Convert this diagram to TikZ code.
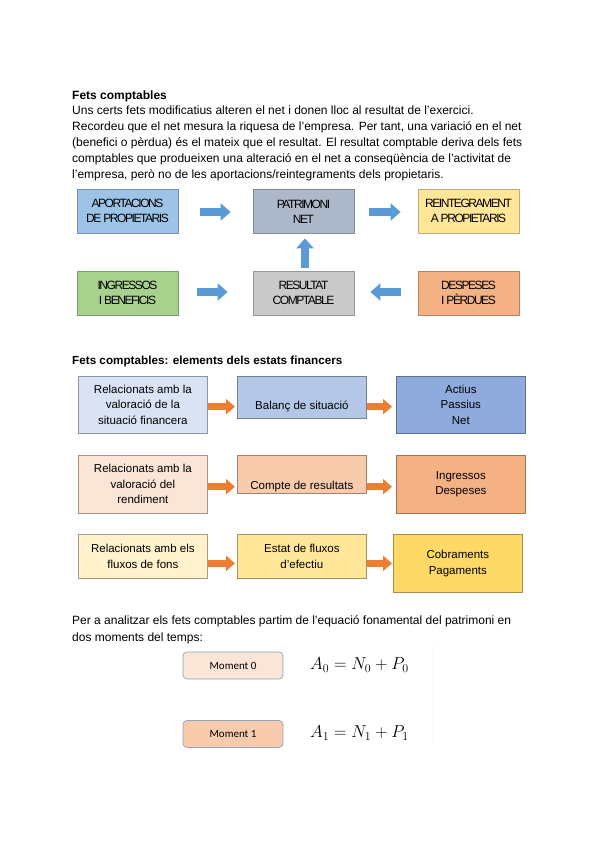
\documentclass[tikz,border=0pt]{standalone}
\usepackage{fontspec}
\setmainfont{Liberation Sans}
\newfontfamily\condfont[LetterSpace=-12]{Liberation Sans}
\newfontfamily\calfont{Carlito}
\usetikzlibrary{arrows.meta}
\definecolor{apbl}{HTML}{9DC3E6}
\definecolor{pngr}{HTML}{ADB9CA}
\definecolor{reyl}{HTML}{FFE699}
\definecolor{ingr}{HTML}{A9D18E}
\definecolor{resg}{HTML}{C9C9C9}
\definecolor{desor}{HTML}{F4B183}
\definecolor{arrbl}{HTML}{5B9BD5}
\definecolor{arror}{HTML}{ED7D31}
\definecolor{bla}{HTML}{DAE3F3}
\definecolor{blb}{HTML}{B4C7E7}
\definecolor{blc}{HTML}{8FAADC}
\definecolor{ora}{HTML}{FBE5D6}
\definecolor{orb}{HTML}{F8CBAD}
\definecolor{orc}{HTML}{F4B183}
\definecolor{yla}{HTML}{FFF2CC}
\definecolor{ylb}{HTML}{FFE699}
\definecolor{ylc}{HTML}{FFD966}
\definecolor{mbord}{HTML}{8FA3BF}
\tikzset{
  capbox/.style={draw=#1!75!black, line width=0.8pt, fill=#1, minimum width=101, minimum height=44, inner sep=0pt, align=center, font=\condfont\fontsize{12}{15}\selectfont},
  elbox/.style={draw=#1!65!black, line width=0.7pt, fill=#1, minimum width=129, inner sep=0pt, align=center, font=\fontsize{11.5}{15.5}\selectfont, anchor=north west},
  bluearrow/.style={draw=arrbl, line width=8pt, -{Triangle[length=10pt, width=17pt]}},
  orarrow/.style={draw=arror, line width=6.5pt, -{Triangle[length=9pt, width=15pt]}},
  momentbox/.style={draw=mbord, line width=0.7pt, fill=#1, rounded corners=4pt, minimum width=100, minimum height=27, inner sep=0pt, font=\calfont\fontsize{11}{13}\selectfont},
  eqn/.style={inner sep=0pt, anchor=west, font=\fontsize{16.5}{20}\selectfont}
}
\begin{document}
\begin{tikzpicture}[x=1pt, y=-1pt]
\useasboundingbox[fill=white] (0,0) rectangle (599,848);

% --- Section 1 text
\node[anchor=base west, inner sep=0pt, font=\bfseries\fontsize{12}{14}\selectfont] (t1) at (72,99.5) {Fets comptables};
\node[anchor=north west, inner sep=0pt, align=left, font=\fontsize{12}{16}\selectfont] (p1) at (72,105.7) {Uns certs fets modificatius alteren el net i donen lloc al resultat de l’exercici.\\
Recordeu que el net mesura la riquesa de l’empresa. Per tant, una variació en el net\\
(benefici o pèrdua) és el mateix que el resultat. El resultat comptable deriva dels fets\\
comptables que produeixen una alteració en el net a conseqüència de l’activitat de\\
l’empresa, però no de les aportacions/reintegraments dels propietaris.};

% --- Diagram 1
\node[capbox=apbl] (ap) at (127.5,211) {APORTACIONS\\DE PROPIETARIS};
\node[capbox=pngr] (pn) at (303.5,211.5) {PATRIMONI\\NET};
\node[capbox=reyl] (re) at (468.5,211) {REINTEGRAMENT\\A PROPIETARIS};
\node[capbox=ingr] (in) at (127.5,293) {INGRESSOS\\I BENEFICIS};
\node[capbox=resg] (rs) at (303.5,293) {RESULTAT\\COMPTABLE};
\node[capbox=desor] (de) at (468.5,293) {DESPESES\\I PÈRDUES};

\draw[bluearrow] ([xshift=22pt,yshift=-1pt]ap.east) -- ([xshift=-22pt,yshift=-0.5pt]pn.west);
\draw[bluearrow] ([xshift=15pt,yshift=-0.5pt]pn.east) -- ([xshift=-17pt,yshift=-1pt]re.west);
\draw[bluearrow] ([xshift=1.5pt,yshift=3pt]rs.north) -- ([xshift=1.5pt,yshift=-4.5pt]pn.south);
\draw[bluearrow] ([xshift=19pt,yshift=1pt]in.east) -- ([xshift=-25pt,yshift=1pt]rs.west);
\draw[bluearrow] ([xshift=-17pt,yshift=1pt]de.west) -- ([xshift=16pt,yshift=1pt]rs.east);

% --- Section 2
\node[anchor=base west, inner sep=0pt, font=\bfseries\fontsize{11.7}{14}\selectfont] (t2) at (72,364) {Fets comptables: elements dels estats financers};

\node[elbox=bla, minimum height=57] (a1) at (78,376) {Relacionats amb la\\valoració de la\\situació financera};
\node[elbox=blb, minimum height=42] (b1) at (237,376) {};
\node[anchor=base, inner sep=0pt, font=\fontsize{11.5}{14}\selectfont] (b1t) at ([yshift=9pt]b1.south) {Balanç de situació};
\node[elbox=blc, minimum height=57] (c1) at (396,376) {Actius\\Passius\\Net};

\node[elbox=ora, minimum height=58] (a2) at (78,455) {Relacionats amb la\\valoració del\\rendiment};
\node[elbox=orb, minimum height=38] (b2) at (237,455) {};
\node[anchor=base, inner sep=0pt, font=\fontsize{11.5}{14}\selectfont] (b2t) at ([yshift=4pt]b2.south) {Compte de resultats};
\node[elbox=orc, minimum height=58] (c2) at (396,455) {Ingressos\\Despeses};

\node[elbox=yla, minimum height=44] (a3) at (78,534) {Relacionats amb els\\fluxos de fons};
\node[elbox=ylb, minimum height=44] (b3) at (237,534) {Estat de fluxos\\d’efectiu};
\node[elbox=ylc, minimum height=58] (c3) at (393,534) {Cobraments\\Pagaments};

\coordinate (o1s) at (a1.east |- b1t.center);
\draw[orarrow] (o1s) -- ([xshift=-2pt]b1.west |- o1s);
\draw[orarrow] (b1.east |- o1s) -- ([xshift=-4pt]c1.west |- o1s);
\coordinate (o2s) at (a2.east |- b2t.center);
\draw[orarrow] (o2s) -- ([xshift=-2pt]b2.west |- o2s);
\draw[orarrow] (b2.east |- o2s) -- ([xshift=-4pt]c2.west |- o2s);
\coordinate (o3s) at ([yshift=-7pt]a3.east);
\draw[orarrow] (o3s) -- ([xshift=-2pt]b3.west |- o3s);
\draw[orarrow] (b3.east |- o3s) -- ([xshift=-1pt]c3.west |- o3s);

% --- Section 3
\node[anchor=north west, inner sep=0pt, align=left, font=\fontsize{12}{17}\selectfont] (p3) at (72,615.2) {Per a analitzar els fets comptables partim de l’equació fonamental del patrimoni en\\dos moments del temps:};

\node[momentbox=ora] (m0) at (233,665.5) {Moment 0};
\node[momentbox=orb] (m1) at (233,734) {Moment 1};
\node[eqn] (e0) at (310,665) {$A_0 = N_0 + P_0$};
\node[eqn] (e1) at (310,733) {$A_1 = N_1 + P_1$};
\draw[black!4, line width=0.6pt] (433,645) -- (433,746);
\end{tikzpicture}
\end{document}
